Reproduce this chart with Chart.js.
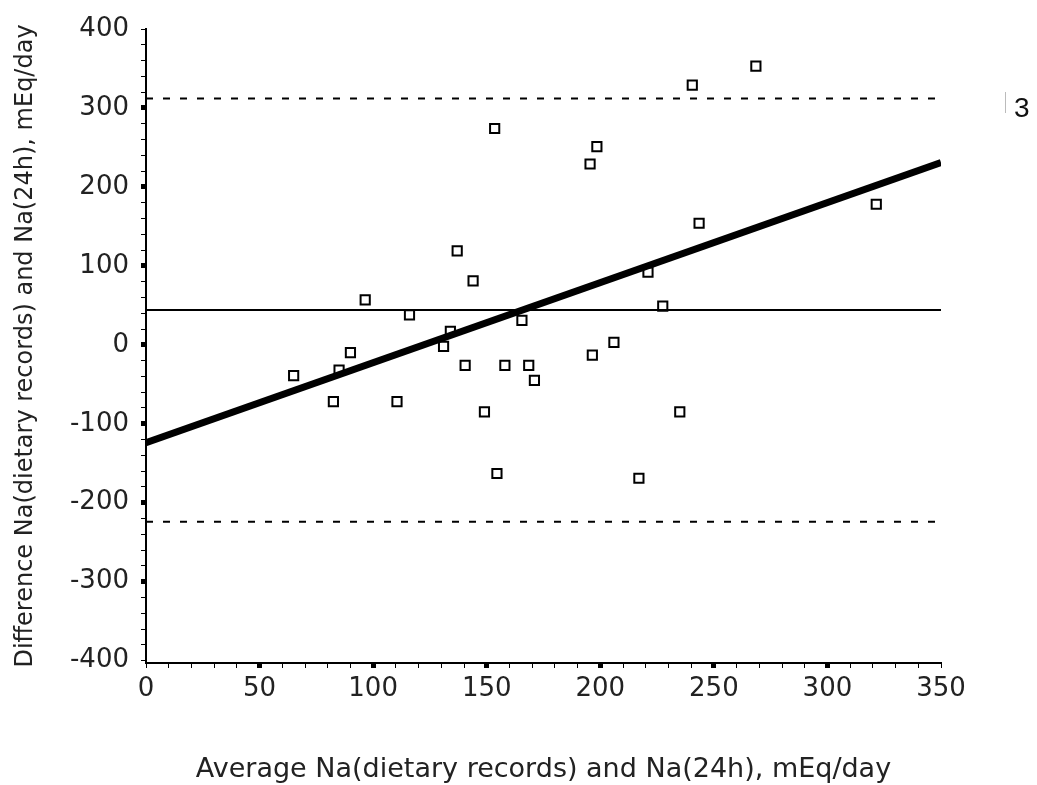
<!DOCTYPE html>
<html>
<head>
<meta charset="utf-8">
<script src="https://cdn.jsdelivr.net/npm/chart.js@4"></script>
<style>
  body { margin: 0; background: #fff; }
  canvas { display: block; }
</style>
</head>
<body>
<canvas id="blandAltman" width="1037" height="785"></canvas>
<script>
// averages (x) and differences (y), mEq/day
const avgNa = [65, 82.5, 85, 90, 96.5, 110.5, 116, 131, 134, 137, 140.5, 144, 149, 153.5, 154.5, 158,
    165.5, 168.5, 171, 195.5, 196.5, 198.5, 206, 217, 221, 227.5, 235, 240.5, 243.5, 268.5, 321.5];
const diffNa = [-39, -72, -32, -10, 57, -72, 38, -2, 17, 119, -26, 81, -85, 274, -163, -26,
    31, -26, -45, 229, -13, 251, 3, -169, 92, 49, -85, 329, 154, 353, 178];

const lineX = [0, 350];
const meanDiff = [44, 44];
const upperLimit = [312, 312];
const lowerLimit = [-224, -224];
const regressionY = [-124, 231];

const xTickLabels = [0, 50, 100, 150, 200, 250, 300, 350];
const yTickLabels = [-400, -300, -200, -100, 0, 100, 200, 300, 400];

const toPoints = (xs, ys) => xs.map((x, i) => ({ x: x, y: ys[i] }));

const tickFont = { family: 'DejaVu Sans', size: 26 };

const sideNote = {
    id: 'sideNote',
    afterDraw(chart) {
        const ctx = chart.ctx;
        ctx.save();
        ctx.strokeStyle = '#bbb';
        ctx.lineWidth = 1;
        ctx.beginPath();
        ctx.moveTo(1005.5, 92);
        ctx.lineTo(1005.5, 113);
        ctx.stroke();
        ctx.fillStyle = '#111';
        ctx.font = '28px "Liberation Sans", Arial, sans-serif';
        ctx.fillText('3', 1014, 117);
        ctx.restore();
    }
};

const ctx = document.getElementById('blandAltman').getContext('2d');
new Chart(ctx, {
    type: 'scatter',
    data: {
        datasets: [
            {
                label: 'upper',
                type: 'line',
                data: toPoints(lineX, upperLimit),
                borderColor: '#000',
                borderWidth: 2,
                borderDash: [7, 10],
                pointRadius: 0
            },
            {
                label: 'lower',
                type: 'line',
                data: toPoints(lineX, lowerLimit),
                borderColor: '#000',
                borderWidth: 2,
                borderDash: [7, 10],
                pointRadius: 0
            },
            {
                label: 'mean',
                type: 'line',
                data: toPoints(lineX, meanDiff),
                borderColor: '#000',
                borderWidth: 2,
                pointRadius: 0
            },
            {
                label: 'regression',
                type: 'line',
                data: toPoints(lineX, regressionY),
                borderColor: '#000',
                borderWidth: 7,
                pointRadius: 0
            },
            {
                label: 'data',
                data: toPoints(avgNa, diffNa),
                pointStyle: 'rect',
                pointRadius: 6.5,
                borderWidth: 2,
                borderColor: '#000',
                backgroundColor: '#fff'
            }
        ]
    },
    options: {
        responsive: false,
        animation: false,
        layout: { padding: { left: 0, right: 96, top: 29, bottom: 0 } },
        plugins: {
            legend: { display: false },
            tooltip: { enabled: false }
        },
        scales: {
            x: {
                type: 'linear',
                min: 0,
                max: 350,
                afterBuildTicks: (scale) => {
                    const t = [];
                    for (let v = 0; v <= 350; v += 10) t.push({ value: v });
                    scale.ticks = t;
                },
                afterFit: (scale) => { scale.height = 122; },
                border: { display: true, color: '#000', width: 2 },
                grid: {
                    drawOnChartArea: false,
                    tickLength: 5,
                    tickColor: '#000',
                    tickWidth: (c) => xTickLabels.includes(c.tick.value) && c.tick.value !== 0 && c.tick.value !== 350 ? 5 : 1
                },
                ticks: {
                    autoSkip: false,
                    maxRotation: 0,
                    padding: 6,
                    color: '#222',
                    font: tickFont,
                    callback: (v) => xTickLabels.includes(v) ? String(v) : ''
                },
                title: {
                    display: true,
                    text: 'Average Na(dietary records) and Na(24h), mEq/day',
                    color: '#222',
                    font: { family: 'DejaVu Sans', size: 27, lineHeight: 1.1 },
                    padding: { top: 0, bottom: 0 }
                }
            },
            y: {
                type: 'linear',
                min: -403,
                max: 400,
                afterBuildTicks: (scale) => {
                    const t = [];
                    for (let v = -400; v <= 400; v += 20) t.push({ value: v });
                    scale.ticks = t;
                },
                afterFit: (scale) => { scale.width = 146; },
                border: { display: true, color: '#000', width: 2 },
                grid: {
                    drawOnChartArea: false,
                    tickLength: 5,
                    tickColor: '#000',
                    tickWidth: (c) => yTickLabels.includes(c.tick.value) && Math.abs(c.tick.value) !== 400 ? 5 : 1
                },
                ticks: {
                    autoSkip: false,
                    padding: 12,
                    color: '#222',
                    font: tickFont,
                    callback: (v) => yTickLabels.includes(v) ? String(v) : ''
                },
                title: {
                    display: true,
                    text: 'Difference Na(dietary records) and Na(24h), mEq/day',
                    color: '#222',
                    font: { family: 'DejaVu Sans', size: 24 },
                    padding: { top: 11, bottom: 0 }
                }
            }
        }
    },
    plugins: [sideNote]
});
</script>
</body>
</html>
